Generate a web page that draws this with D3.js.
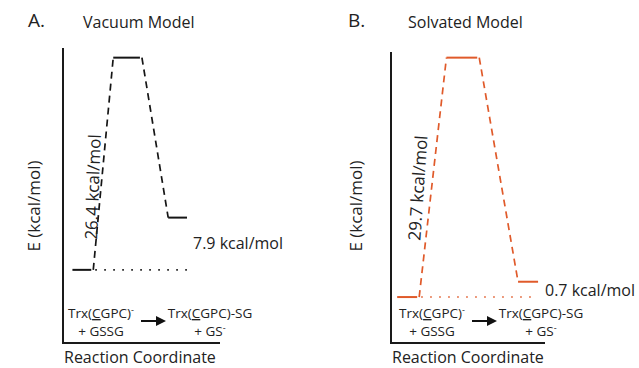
<!DOCTYPE html>
<html>
<head>
<meta charset="utf-8">
<script src="https://cdn.jsdelivr.net/npm/d3@7"></script>
<style>
  body { margin: 0; background: #fff; }
  svg { display: block; font-family: "Open Sans", sans-serif; }
</style>
</head>
<body>
<div id="chart"></div>
<script>
// stages along the reaction coordinate
const stages = ["reactant", "ts", "product"];
// level heights as drawn in each panel (kcal/mol, schematic)
const vacuumLevels = [0, 26.4, 6.5];
const solvatedLevels = [0, 29.7, 1.9];
// horizontal extent of each level in reaction coordinate (0..1)
const vacuumStart = [0.06, 0.32, 0.67];
const vacuumEnd = [0.18, 0.49, 0.79];
const solvatedStart = [0.04, 0.36, 0.825];
const solvatedEnd = [0.17, 0.56, 0.955];
// text
const panelLetters = ["A.", "B."];
const panelTitles = ["Vacuum Model", "Solvated Model"];
const barrierLabels = ["26.4 kcal/mol", "29.7 kcal/mol"];
const productLabels = ["7.9 kcal/mol", "0.7 kcal/mol"];
const yTitle = "E (kcal/mol)";
const xTitle = "Reaction Coordinate";

const width = 639, height = 368;

const panels = [
  {
    levels: vacuumLevels, start: vacuumStart, end: vacuumEnd,
    color: "#151515",
    left: 63, right: 220, top: 48, bottom: 343, yDomain: [-9.1, 27.6],
    letterX: 28, titleX: 83, yTitleX: 40,
    barrier: { x: 93, y: 187, angle: -88 },
    productLabel: { x: 193, y: 249 },
    reactX: 101, prodX: 210, arrow: [141, 164]
  },
  {
    levels: solvatedLevels, start: solvatedStart, end: solvatedEnd,
    color: "#e05a2a",
    left: 391, right: 545, top: 52, bottom: 343, yDomain: [-5.7, 30.4],
    letterX: 348, titleX: 408, yTitleX: 362,
    barrier: { x: 418, y: 188, angle: -86 },
    productLabel: { x: 545, y: 296 },
    reactX: 432, prodX: 541, arrow: [472, 495]
  }
];

const svg = d3.select("#chart").append("svg")
  .attr("width", width)
  .attr("height", height);

svg.append("defs").append("marker")
  .attr("id", "arrow")
  .attr("viewBox", "0 0 10 10")
  .attr("refX", 8).attr("refY", 5)
  .attr("markerWidth", 5).attr("markerHeight", 5)
  .attr("orient", "auto")
  .append("path")
  .attr("d", "M0,0L10,5L0,10z")
  .attr("fill", "#111");

function complexLabel(g, x, y, product) {
  const t = g.append("text")
    .attr("x", x).attr("y", y)
    .attr("text-anchor", "middle")
    .attr("font-size", 13.5)
    .attr("fill", "#222");
  t.append("tspan").text("Trx(");
  t.append("tspan").attr("text-decoration", "underline").text("C");
  t.append("tspan").text(product ? "GPC)-SG" : "GPC)");
  if (!product) {
    t.append("tspan").attr("font-size", 9).attr("dy", -5).text("-");
  }
  const t2 = g.append("text")
    .attr("x", x).attr("y", y + 18)
    .attr("text-anchor", "middle")
    .attr("font-size", 13.5)
    .attr("fill", "#222");
  t2.append("tspan").text(product ? "+ GS" : "+ GSSG");
  if (product) {
    t2.append("tspan").attr("font-size", 9).attr("dy", -5).text("-");
  }
}

panels.forEach((p, i) => {
  const g = svg.append("g");

  const x = d3.scaleLinear().domain([0, 1]).range([p.left, p.right]);
  const y = d3.scaleLinear().domain(p.yDomain).range([p.bottom, p.top]);

  // axes (L-shaped frame)
  g.append("path")
    .attr("d", d3.line()([[x(0), y(p.yDomain[1])], [x(0), y(p.yDomain[0])], [x(1), y(p.yDomain[0])]]))
    .attr("fill", "none")
    .attr("stroke", "#1a1a1a")
    .attr("stroke-width", 2);

  // dotted reference line at reactant energy
  g.append("line")
    .attr("x1", x(p.end[0]) + 4).attr("x2", x(p.end[2]))
    .attr("y1", y(p.levels[0])).attr("y2", y(p.levels[0]))
    .attr("stroke", p.color)
    .attr("stroke-width", 1.6)
    .attr("stroke-dasharray", "1.6,7.4");

  // connectors between levels
  const line = d3.line();
  for (let k = 0; k < stages.length - 1; k++) {
    g.append("path")
      .attr("d", line([[x(p.end[k]) + 2, y(p.levels[k])], [x(p.start[k + 1]), y(p.levels[k + 1])]]))
      .attr("fill", "none")
      .attr("stroke", p.color)
      .attr("stroke-width", 1.7)
      .attr("stroke-dasharray", "7,5");
  }

  // energy levels
  g.selectAll("line.level")
    .data(stages)
    .join("line")
    .attr("class", "level")
    .attr("x1", (d, k) => x(p.start[k]))
    .attr("x2", (d, k) => x(p.end[k]))
    .attr("y1", (d, k) => y(p.levels[k]))
    .attr("y2", (d, k) => y(p.levels[k]))
    .attr("stroke", p.color)
    .attr("stroke-width", 2);

  // titles
  g.append("text")
    .attr("x", p.letterX).attr("y", 27)
    .attr("font-size", 19)
    .attr("fill", "#222")
    .text(panelLetters[i]);
  g.append("text")
    .attr("x", p.titleX).attr("y", 28)
    .attr("font-size", 16)
    .attr("fill", "#222")
    .text(panelTitles[i]);

  g.append("text")
    .attr("transform", `translate(${p.yTitleX},206) rotate(-90)`)
    .attr("text-anchor", "middle")
    .attr("font-size", 17)
    .attr("fill", "#222")
    .text(yTitle);

  g.append("text")
    .attr("x", x(0) + 1).attr("y", 363)
    .attr("font-size", 16)
    .attr("fill", "#222")
    .text(xTitle);

  // barrier and product energy labels
  g.append("text")
    .attr("transform", `translate(${p.barrier.x},${p.barrier.y}) rotate(${p.barrier.angle})`)
    .attr("text-anchor", "middle")
    .attr("dy", "0.35em")
    .attr("font-size", 17)
    .attr("fill", "#222")
    .text(barrierLabels[i]);

  g.append("text")
    .attr("x", p.productLabel.x).attr("y", p.productLabel.y)
    .attr("font-size", 16)
    .attr("fill", "#222")
    .text(productLabels[i]);

  // species labels and arrow
  complexLabel(g, p.reactX, 318, false);
  complexLabel(g, p.prodX, 318, true);
  g.append("line")
    .attr("x1", p.arrow[0]).attr("x2", p.arrow[1])
    .attr("y1", 321).attr("y2", 321)
    .attr("stroke", "#111")
    .attr("stroke-width", 2)
    .attr("marker-end", "url(#arrow)");
});
</script>
</body>
</html>
